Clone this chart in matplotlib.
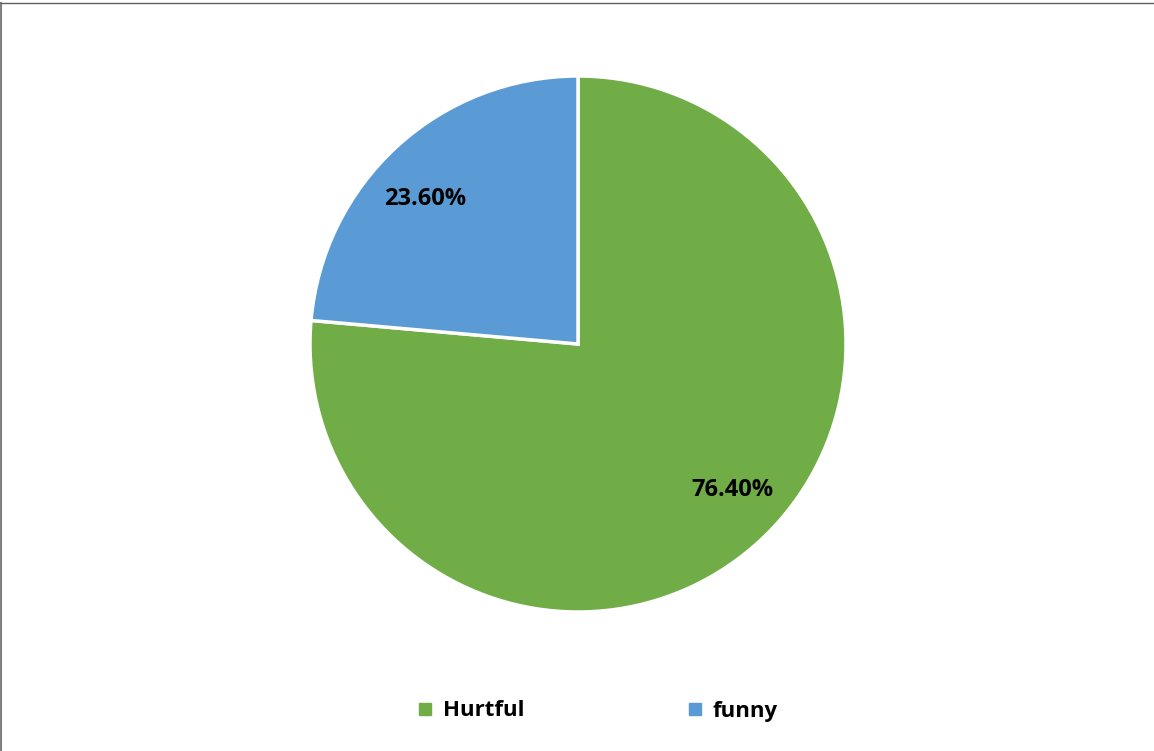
import matplotlib.pyplot as plt
from matplotlib.lines import Line2D

labels = ['Hurtful', 'funny']
values = [76.4, 23.6]
colors = ['#70AD47', '#5B9BD5']

W, H = 1154, 751
fig = plt.figure(figsize=(W / 100, H / 100), dpi=100)
plt.rcParams['font.family'] = ['Open Sans', 'DejaVu Sans']

cx, cy, r = 578, 344, 268
ax = fig.add_axes([(cx - r) / W, (H - cy - r) / H, 2 * r / W, 2 * r / H])
wedges, texts, autotexts = ax.pie(values, colors=colors, startangle=90, counterclock=False,
                                  autopct=lambda p: '%.2f%%' % p, pctdistance=0.79,
                                  wedgeprops=dict(edgecolor='white', linewidth=2.5),
                                  textprops=dict(fontsize=17, fontweight='bold', color='black'))
# Excel-style label placement
autotexts[0].set_position((0.578, -0.545))
autotexts[1].set_position((-0.571, 0.54))
ax.set_aspect('equal')
ax.set_xlim(-1, 1)
ax.set_ylim(-1, 1)

handles = [Line2D([], [], marker='s', linestyle='', markersize=9, color=c) for c in colors]
leg = fig.legend(handles, labels, loc='center', bbox_to_anchor=(596 / W, 1 - 711 / H), ncol=2,
                 frameon=False, columnspacing=7.15, handletextpad=0.3, handlelength=1.0,
                 prop=dict(size=16, weight='bold'))

# chart frame (top and left edges visible)
fig.add_artist(Line2D([1 / W, 1 / W], [0, 1 - 3 / H], color='#808080', linewidth=1.5))
fig.add_artist(Line2D([1 / W, 1], [1 - 3 / H, 1 - 3 / H], color='#606060', linewidth=1.0))

fig.savefig('out.png', dpi=100)
